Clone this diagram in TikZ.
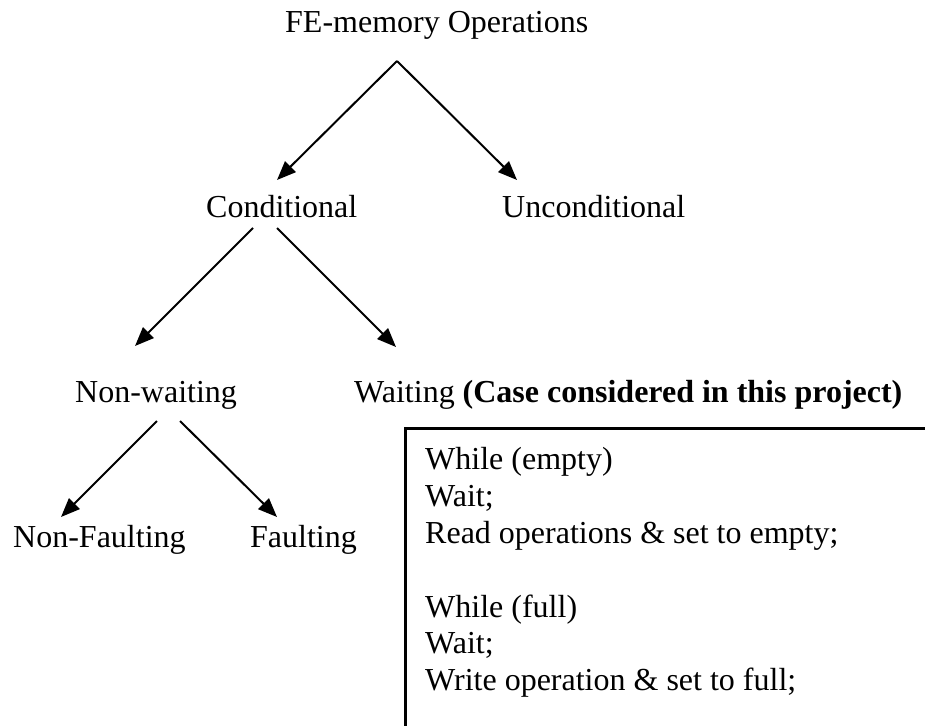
\documentclass[tikz,border=0pt]{standalone}
\usepackage{fontspec}
\setmainfont{Liberation Serif}
\usetikzlibrary{arrows.meta}
\begin{document}
\begin{tikzpicture}[x=1pt,y=-1pt,
  label/.style={anchor=base west,inner sep=0pt,font=\fontsize{32}{36.8}\selectfont},
  branch/.style={line width=2pt,-{Triangle[length=19pt,width=15pt]}},
  frame/.style={line width=2.2pt}]
\useasboundingbox (0,0) rectangle (925,725);

% tree labels
\node[label] (title)    at (285,33)  {FE-memory Operations};
\node[label] (cond)     at (206,217) {Conditional};
\node[label] (uncond)   at (502,217) {Unconditional};
\node[label] (nonwait)  at (75,402)  {Non-waiting};
\node[label] (wait)     at (354,402) {Waiting \textbf{(Case considered in this project)}};
\node[label] (nonfault) at (13,547)  {Non-Faulting};
\node[label] (fault)    at (250,547) {Faulting};

% branch end points
\coordinate (apex)   at (397,61);
\coordinate (tcond)  at (277,180);
\coordinate (tunc)   at (517,180);
\coordinate (cl)     at (253,228);
\coordinate (cr)     at (277,228);
\coordinate (tnw)    at (135,346);
\coordinate (tw)     at (396,347);
\coordinate (nl)     at (157,421);
\coordinate (nr)     at (180,421);
\coordinate (tnf)    at (61,517);
\coordinate (tf)     at (277,517);

\draw[branch] (apex) -- (tcond);
\draw[branch] (apex) -- (tunc);
\draw[branch] (cl) -- (tnw);
\draw[branch] (cr) -- (tw);
\draw[branch] (nl) -- (tnf);
\draw[branch] (nr) -- (tf);

% pseudo-code box (runs past the right and bottom edges)
\coordinate (boxtl) at (405.5,428.5);
\begin{scope}
  \clip (0,0) rectangle (925,725);
  \draw[frame] (boxtl) rectangle (960,760);
\end{scope}
\node[label,align=left,anchor=north west] (code) at (425,447.5)
  {While (empty)\\Wait;\\Read operations \& set to empty;\\[36.8pt]While (full)\\Wait;\\Write operation \& set to full;};
\end{tikzpicture}
\end{document}
